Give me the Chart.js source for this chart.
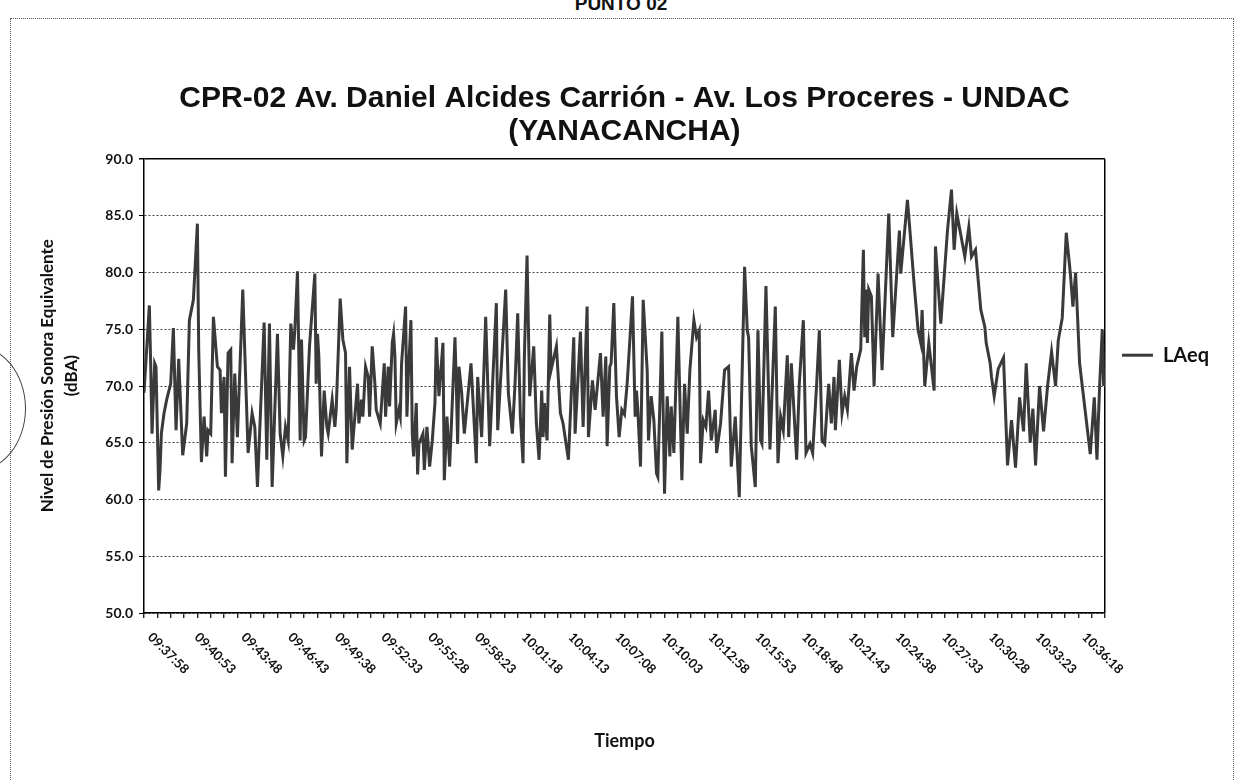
<!DOCTYPE html>
<html>
<head>
<meta charset="utf-8">
<title>CPR-02 LAeq</title>
<script src="https://cdn.jsdelivr.net/npm/chart.js@4.4.0/dist/chart.umd.min.js"></script>
<style>
  html, body { margin: 0; padding: 0; background: #fff; }
  #page { position: relative; width: 1242px; height: 781px; overflow: hidden; }
  #punto { position: absolute; top: -6px; left: 0; width: 1242px; text-align: center; font: bold 19px "Liberation Sans", Arial, sans-serif; line-height: 20px; color: #111; }
  #frame { position: absolute; left: 10px; top: 18px; width: 1222px; height: 790px; border: 1px dotted #555; }
  #stamp { position: absolute; left: -78px; top: 345px; width: 102px; height: 125px; border: 1.5px solid #444; border-radius: 50%; }
  canvas { position: absolute; left: 0; top: 0; }
</style>
</head>
<body>
<div id="page">
  <div id="punto">PUNTO 02</div>
  <div id="frame"></div>
  <div id="stamp"></div>
  <canvas id="chart-laeq" width="1242" height="781"></canvas>
</div>
<script>
// data
// sample number (one sample every 5 s from 09:37:58) and LAeq (dBA) read at each turn of the line
var sampleIdx = [
  0, 4, 5, 6, 8, 9, 11, 12, 13, 15, 17, 20, 22, 24, 26, 29, 32, 34, 37, 40,
  41, 43, 45, 47, 48, 50, 52, 55, 57, 58, 60, 61, 63, 65, 66, 68, 70, 74, 78, 81,
  83, 85, 90, 92, 94, 96, 100, 102, 104, 106, 108, 110, 112, 113, 115, 117, 118, 120, 121, 124,
  128, 129, 130, 131, 133, 135, 137, 138, 141, 143, 144, 147, 149, 151, 152, 154, 156, 160, 161, 163,
  164, 166, 168, 169, 171, 173, 174, 177, 180,
  181, 183, 184, 186, 187, 188, 189, 191, 192, 193, 196, 197, 198, 200, 201, 202, 204, 205, 206, 209,
  210, 212, 214, 216, 218, 219, 221, 224, 225, 227, 229, 233, 234, 235, 236, 238, 240, 245, 249, 250,
  253, 256, 259, 264, 265, 267, 271,
  273, 276, 278, 280, 282, 284, 285, 287, 289, 291, 292, 294, 296, 298, 299, 300, 302, 304, 305, 309,
  312, 314, 318, 322, 323, 327, 329, 332, 333, 336, 338, 342, 344, 346, 347, 349, 350, 352, 354, 356,
  358, 360, 362, 364, 366, 368,
  369, 370, 372, 374, 377, 378, 380, 382, 384, 385, 388, 390, 392, 394, 395, 397, 400, 403, 405, 407,
  409, 412, 414, 416, 417, 419, 421, 423, 425, 428, 429, 432, 435, 438, 440, 443, 446, 450,
  452, 453, 455, 458, 460, 462, 463, 466, 469, 473, 475, 477, 479, 482, 483, 485, 489, 491, 494, 496,
  499, 501, 504, 506, 508, 510, 513, 515, 517, 518, 521, 523, 525, 527, 530, 532, 534, 537, 539, 540,
  541, 542, 543, 545, 547, 550, 553, 558, 561, 566, 567, 572, 574, 577, 580, 582, 583, 585, 588, 592,
  593, 597, 602, 605, 607, 609, 615, 618, 620, 623, 627, 630, 631, 634, 635, 637,
  640, 644, 647, 650, 653, 656, 659, 661, 664, 666, 668, 671, 674, 677, 680, 683, 685, 688, 691, 694,
  696, 698, 701, 704, 707, 709, 712, 714, 716, 718, 719
];
var laeq = [
  69.4, 77.1, 72.0, 65.8, 72.0, 71.7, 60.8, 62.6, 65.8, 67.6, 68.8, 70.2, 75.1, 66.1, 72.4, 63.9, 66.7, 75.8, 77.6, 84.3,
  73.2, 63.3, 67.3, 63.8, 66.1, 65.8, 76.1, 71.7, 71.4, 67.6, 70.8, 62.0, 72.9, 73.2, 63.2, 71.1, 65.5, 78.5, 64.1, 67.6,
  66.4, 61.1, 75.6, 63.5, 75.5, 61.1, 74.6, 65.8, 63.8, 66.4, 65.2, 75.5, 73.2, 74.9, 80.1, 65.2, 74.1, 65.2, 65.5, 73.5,
  79.9, 70.2, 74.6, 72.6, 63.8, 69.6, 66.4, 65.8, 68.8, 66.4, 67.9, 77.7, 74.1, 72.9, 63.2, 71.7, 64.4, 70.2, 66.7, 68.8,
  67.3, 71.7, 70.8, 67.3, 73.5, 70.2, 67.9, 66.7, 72.0,
  67.3, 71.7, 68.2, 73.8, 74.6, 72.6, 66.7, 67.9, 67.3, 72.0, 77.0, 67.3, 70.8, 75.8, 65.8, 63.8, 68.5, 62.2, 64.9, 65.8,
  62.6, 66.4, 62.9, 65.2, 68.5, 74.3, 69.1, 73.8, 61.7, 67.3, 62.9, 74.3, 70.2, 64.9, 71.7, 69.4, 65.8, 72.0, 63.2, 70.8,
  65.5, 76.1, 64.7, 77.3, 66.1, 70.2, 78.5,
  69.4, 65.8, 70.2, 76.4, 67.3, 63.2, 72.6, 81.5, 69.1, 72.0, 73.5, 66.7, 63.5, 69.6, 65.5, 68.5, 65.2, 76.3, 71.4, 73.5,
  67.6, 66.7, 63.5, 74.3, 65.8, 74.8, 66.4, 77.0, 65.5, 70.5, 67.9, 72.9, 67.3, 72.6, 64.7, 71.7, 72.0, 77.3, 69.1, 65.5,
  67.9, 67.5, 70.2, 74.0, 77.9, 67.3,
  69.6, 67.9, 62.9, 77.6, 71.4, 65.2, 69.1, 67.0, 62.3, 62.0, 74.8, 60.5, 69.1, 63.8, 68.2, 64.1, 76.1, 61.7, 70.2, 65.8,
  71.4, 75.8, 74.3, 74.9, 63.2, 67.0, 66.4, 69.6, 65.2, 67.9, 64.1, 66.7, 71.4, 71.7, 62.9, 67.3, 60.2, 80.5,
  74.9, 74.3, 64.7, 61.1, 74.9, 65.2, 64.9, 78.8, 64.4, 77.0, 63.2, 67.3, 66.1, 72.7, 65.5, 72.0, 63.5, 70.2, 75.8, 64.1,
  64.9, 64.1, 70.2, 74.9, 65.2, 64.9, 70.2, 66.7, 70.8, 66.1, 72.3, 67.6, 69.1, 67.9, 72.9, 69.6, 71.7, 73.2, 82.0, 74.3,
  78.5, 73.8, 78.5, 77.9, 70.0, 79.9, 71.4, 85.2, 74.3, 83.7, 79.9, 86.4, 83.5, 79.0, 74.9, 73.8, 76.7, 70.0, 73.8, 69.6,
  82.3, 75.5, 83.7, 87.3, 82.0, 85.2, 81.4, 84.0, 81.4, 82.0, 76.7, 75.2, 73.8, 72.0, 70.8, 69.1,
  71.5, 72.5, 63.0, 67.0, 62.8, 69.0, 66.0, 72.0, 65.0, 68.0, 63.0, 70.0, 66.0, 70.0, 73.0, 70.0, 74.0, 76.0, 83.5, 80.0,
  77.0, 80.0, 72.0, 69.0, 66.0, 64.0, 69.0, 63.5, 70.0, 75.0, 70.0
];

// x axis: a tick mark every 10 samples, a time label every 35 samples
var tickEvery = 10;
var labelEvery = 35;
var lastSample = 720;
var timeLabels = [
  '09:37:58', '09:40:53', '09:43:48', '09:46:43', '09:49:38', '09:52:33', '09:55:28',
  '09:58:23', '10:01:18', '10:04:13', '10:07:08', '10:10:03', '10:12:58', '10:15:53',
  '10:18:48', '10:21:43', '10:24:38', '10:27:33', '10:30:28', '10:33:23', '10:36:18'
];

// leading no-break spaces nudge the rotated axis title a little upwards, as in the original
var yTitle = ['\u00a0\u00a0\u00a0\u00a0\u00a0Nivel de Presión Sonora Equivalente', '\u00a0\u00a0\u00a0\u00a0\u00a0(dBA)'];
var chartTitle = ['CPR-02 Av. Daniel Alcides Carrión - Av. Los Proceres - UNDAC', '(YANACANCHA)'];

var font = 'Lato, "Open Sans", sans-serif';

// time labels slanted downwards, like the spreadsheet export
var timeLabelPlugin = {
  id: 'timeLabels',
  afterDraw: function (chart) {
    var x = chart.scales.x;
    var ctx = chart.ctx;
    ctx.save();
    ctx.font = 'bold 13px ' + font;
    ctx.fillStyle = '#111';
    ctx.textAlign = 'left';
    ctx.textBaseline = 'middle';
    timeLabels.forEach(function (t, i) {
      var px = x.getPixelForValue(i * labelEvery);
      ctx.save();
      ctx.translate(px + 6, x.top + 22);
      ctx.rotate(Math.PI / 4);
      ctx.fillText(t, 0, 0);
      ctx.restore();
    });
    ctx.restore();
  }
};

var isTop = function (c) { return c.tick && c.tick.value === 90; };

var chart = new Chart(document.getElementById('chart-laeq'), {
  type: 'line',
  data: {
    datasets: [{
      label: 'LAeq',
      data: sampleIdx.map(function (s, i) { return { x: s, y: laeq[i] }; }),
      borderColor: '#3a3a3a',
      backgroundColor: '#3a3a3a',
      borderWidth: 3,
      pointRadius: 0,
      pointStyle: 'line',
      tension: 0
    }]
  },
  options: {
    responsive: false,
    animation: false,
    devicePixelRatio: 1,
    layout: { padding: { left: 20, right: 23, top: 0, bottom: 20 } },
    plugins: {
      title: {
        display: true,
        fullSize: false,
        text: chartTitle,
        color: '#111',
        font: { family: '"Liberation Sans Narrow", "Arial Narrow", "Liberation Sans", sans-serif', size: 30, weight: 'bold', lineHeight: 1.1 },
        padding: { top: 82, bottom: 11 }
      },
      legend: {
        position: 'right',
        align: 'start',
        fullSize: false,
        // empty title only pushes the entry down to the middle of the plot
        title: { display: true, text: '', font: { size: 1 }, padding: { top: 168, bottom: 0 } },
        labels: {
          usePointStyle: true,
          pointStyleWidth: 31,
          padding: 17,
          color: '#111',
          font: { family: font, size: 20, weight: 'bold' }
        }
      },
      tooltip: { enabled: false }
    },
    scales: {
      x: {
        type: 'linear',
        min: 0,
        max: lastSample,
        afterBuildTicks: function (s) {
          var t = [];
          for (var v = 0; v <= lastSample; v += tickEvery) t.push({ value: v });
          s.ticks = t;
        },
        afterFit: function (s) { s.height = 148; },
        ticks: { display: false },
        grid: {
          color: function (c) { return c.tick && c.tick.value === lastSample ? '#000' : 'rgba(0,0,0,0)'; },
          lineWidth: 1.5,
          tickLength: 5,
          tickColor: '#000',
          tickWidth: 1.2
        },
        border: { color: '#000', width: 1.5 },
        title: {
          display: true,
          text: 'Tiempo',
          color: '#111',
          font: { family: font, size: 18, weight: 'bold' },
          padding: { top: 0, bottom: 9 }
        }
      },
      y: {
        min: 50,
        max: 90,
        afterFit: function (s) { s.width = 124; },
        ticks: {
          stepSize: 5,
          padding: 6,
          color: '#111',
          font: { family: font, size: 14, weight: 'bold' },
          callback: function (v) { return v.toFixed(1); }
        },
        grid: {
          color: function (c) { return isTop(c) ? '#000' : '#444'; },
          lineWidth: function (c) { return isTop(c) ? 1.5 : 1; },
          tickLength: 5,
          tickColor: '#000'
        },
        border: {
          color: '#000',
          width: 1.5,
          dash: function (c) { return isTop(c) ? [] : [2, 2]; }
        },
        title: {
          display: true,
          text: yTitle,
          color: '#111',
          font: { family: font, size: 17, weight: 'bold', lineHeight: 1.41 },
          padding: { top: 16, bottom: 0 }
        }
      }
    }
  },
  plugins: [timeLabelPlugin]
});
</script>
</body>
</html>
